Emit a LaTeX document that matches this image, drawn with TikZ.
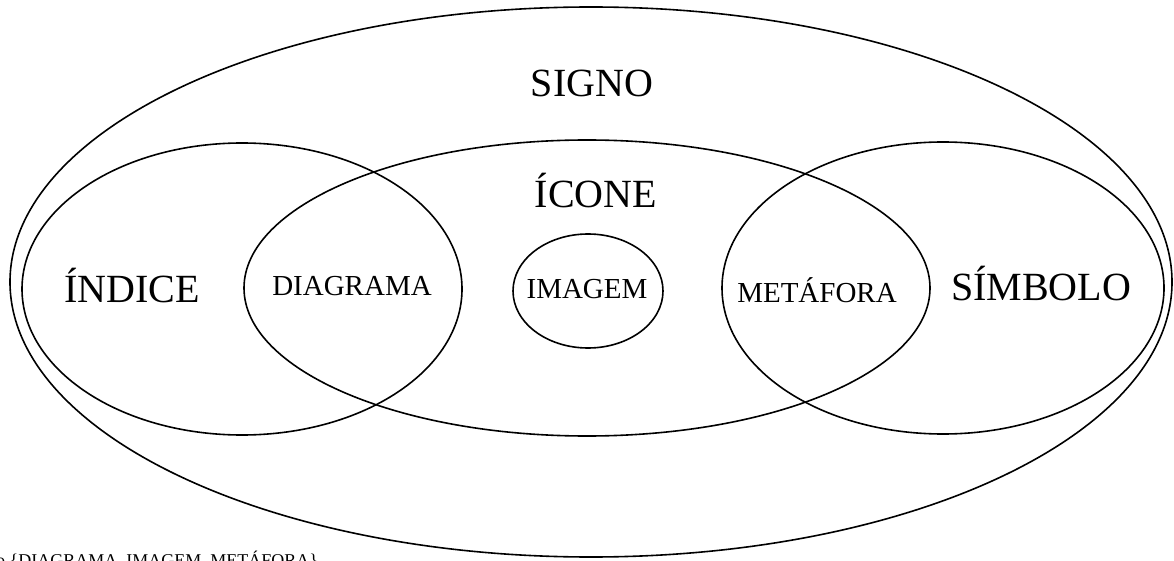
\documentclass[tikz,border=0pt]{standalone}
\usepackage{fontspec}
\setmainfont{Liberation Serif}
\begin{document}
\begin{tikzpicture}[x=1pt,y=-1pt,
  ring/.style={draw=black,line width=1.6pt},
  biglabel/.style={font=\fontsize{40}{44}\selectfont,inner sep=0pt,anchor=base},
  smalllabel/.style={font=\fontsize{29}{32}\selectfont,inner sep=0pt,anchor=base},
  notelabel/.style={font=\fontsize{18}{20}\selectfont,inner sep=0pt,anchor=base west}]
\useasboundingbox (0,0) rectangle (1174,561);
\clip (0,0) rectangle (1174,561);
% outer SIGNO
\draw[ring] (591,282) ellipse [x radius=581pt, y radius=275pt];
% ÍNDICE
\draw[ring] (242,289) ellipse [x radius=220pt, y radius=146pt];
% ÍCONE
\draw[ring] (587,288) ellipse [x radius=343pt, y radius=148pt];
% SÍMBOLO
\draw[ring] (943,288) ellipse [x radius=221pt, y radius=146pt];
% IMAGEM
\draw[ring] (588,291) ellipse [x radius=75pt, y radius=57pt];
\node[biglabel] (signo) at (592,97) {SIGNO};
\node[biglabel] (icone) at (596,208) {ÍCONE};
\node[biglabel] (indice) at (132,302) {ÍNDICE};
\node[biglabel] (simbolo) at (1041,300) {SÍMBOLO};
\node[smalllabel] (diagrama) at (352,295) {DIAGRAMA};
\node[smalllabel] (imagem) at (587,298) {IMAGEM};
\node[smalllabel] (metafora) at (817,302) {METÁFORA};
\node[notelabel] (nota) at (-4,566) {o \{DIAGRAMA, IMAGEM, METÁFORA\}};
\end{tikzpicture}
\end{document}
